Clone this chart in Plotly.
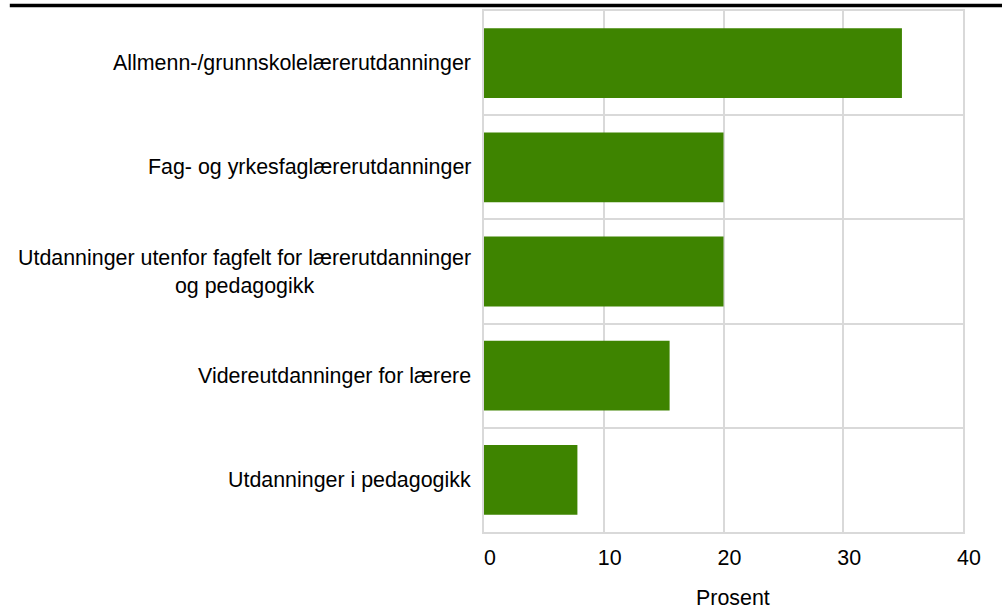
import plotly.graph_objects as go

categories = [
    "Allmenn-/grunnskolelærerutdanninger",
    "Fag- og yrkesfaglærerutdanninger",
    "Utdanninger utenfor fagfelt for lærerutdanninger<br>og pedagogikk",
    "Videreutdanninger for lærere",
    "Utdanninger i pedagogikk",
]
values = [34.9, 20.0, 20.0, 15.5, 7.8]
x_ticks = [0, 10, 20, 30, 40]
x_title = "Prosent"

GREEN = "#3e8400"
GRID = "#d9d9d9"
FONT = "Liberation Sans, Arial, sans-serif"
FS = 21.4

positions = list(range(len(categories)))

fig = go.Figure()

fig.add_trace(go.Bar(
    x=values,
    y=positions,
    orientation="h",
    width=0.67,
    marker=dict(color=GREEN, line=dict(width=0)),
    hovertemplate="%{x}<extra></extra>",
))

# category labels, centred text block right-aligned against the plot
for pos, label in zip(positions, categories):
    fig.add_annotation(
        x=0, xref="paper", y=pos, yref="y",
        text=label, showarrow=False,
        xanchor="right", yanchor="middle", align="center",
        xshift=-11,
        font=dict(size=FS, color="#000000", family=FONT),
    )

# x axis title
fig.add_annotation(
    x=0.5, xref="paper", y=0, yref="paper",
    text=x_title, showarrow=False,
    xanchor="center", yanchor="middle",
    xshift=9, yshift=-66,
    font=dict(size=FS, color="#000000", family=FONT),
)

# thick black rule across the top
fig.add_shape(
    type="line", xref="paper", yref="paper",
    x0=-0.99, x1=1.09, y0=1.0104, y1=1.0104,
    line=dict(color="#000000", width=3.5),
)

fig.update_layout(
    width=1002,
    height=611,
    margin=dict(l=484, r=39, t=11, b=79, autoexpand=False),
    plot_bgcolor="white",
    paper_bgcolor="white",
    showlegend=False,
    font=dict(family=FONT, size=FS, color="#000000"),
    xaxis=dict(
        range=[0, 40],
        tickmode="array",
        tickvals=x_ticks,
        showgrid=True,
        gridcolor=GRID,
        gridwidth=2,
        zeroline=False,
        showline=True,
        mirror=True,
        linecolor=GRID,
        linewidth=2,
        ticks="",
        ticklabelshift=6,
        ticklabelstandoff=5,
        tickfont=dict(size=FS),
        automargin=False,
        fixedrange=True,
    ),
    yaxis=dict(
        range=[4.5, -0.5],
        tickmode="array",
        tickvals=positions,
        showticklabels=False,
        showgrid=False,
        zeroline=False,
        showline=True,
        mirror=True,
        linecolor=GRID,
        linewidth=2,
        ticks="",
        minor=dict(
            tickmode="array",
            tickvals=[p + 0.5 for p in positions[:-1]],
            showgrid=True,
            gridcolor=GRID,
            gridwidth=2,
            ticks="",
        ),
        automargin=False,
        fixedrange=True,
    ),
)

fig.write_html(
    "out.html",
    config={"displayModeBar": False},
    post_script="document.body.style.margin='0';",
)
